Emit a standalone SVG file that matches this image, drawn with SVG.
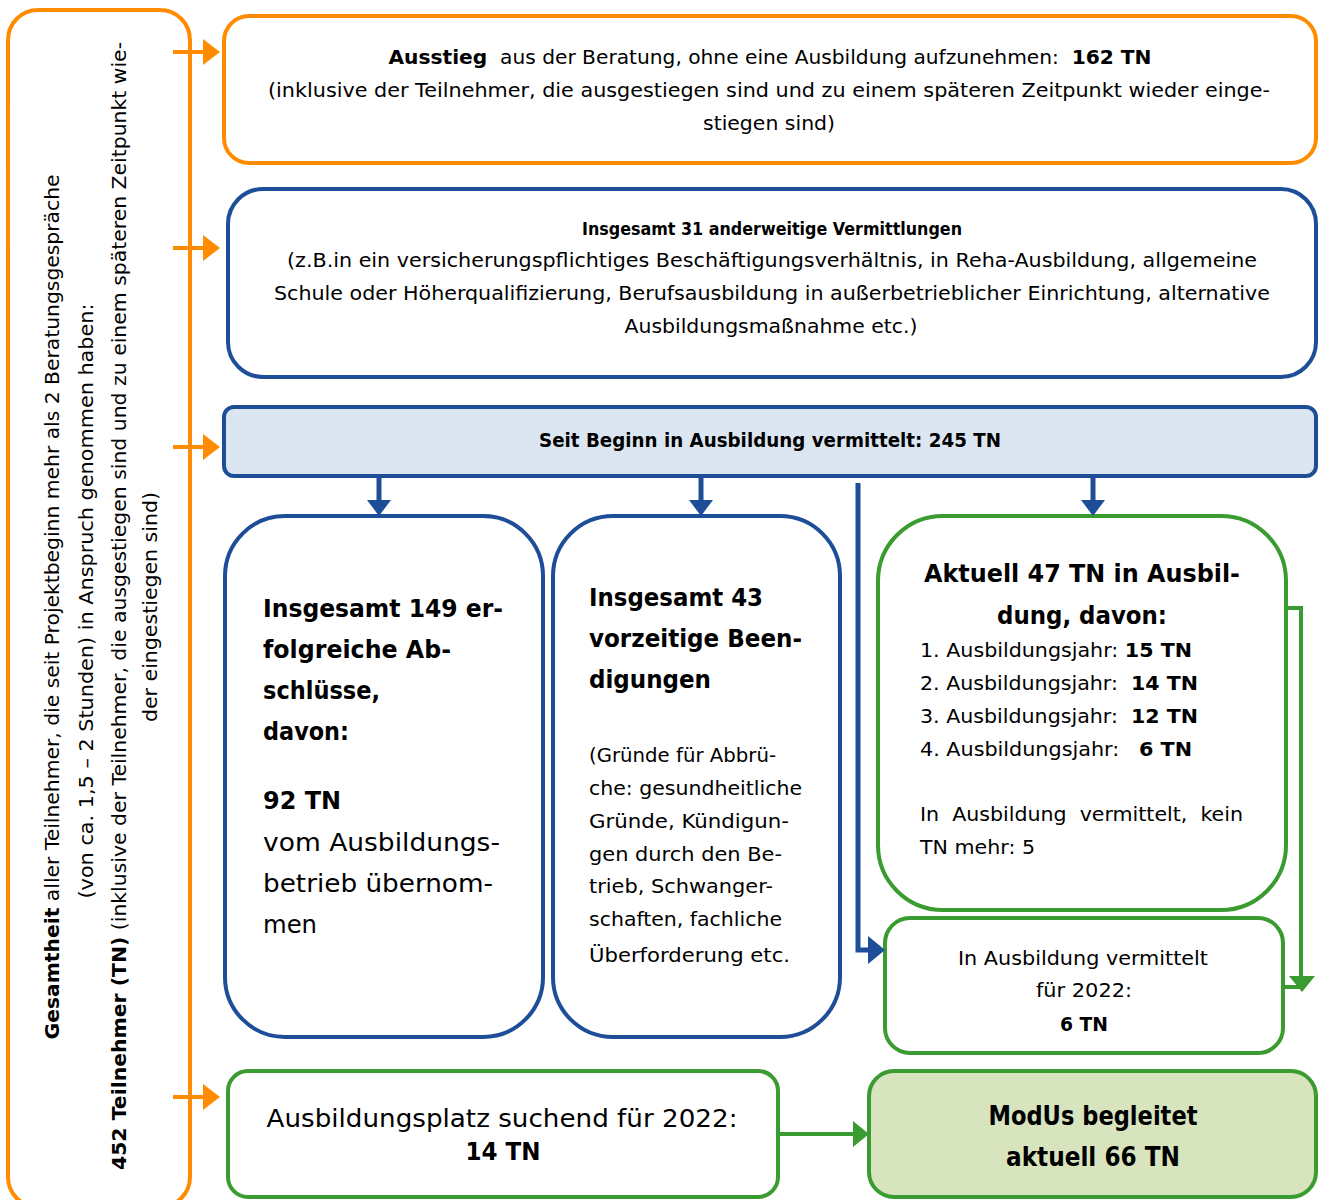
<svg xmlns="http://www.w3.org/2000/svg" width="1323" height="1200" viewBox="0 0 1323 1200">
<style>
text{font-family:"DejaVu Sans","Liberation Sans",sans-serif;fill:#000}
.b{font-weight:bold}
.or{fill:#fff;stroke:#FF8C00;stroke-width:4}
.bl{fill:#fff;stroke:#1F4E99;stroke-width:4}
.gr{fill:#fff;stroke:#3A9B30;stroke-width:4}
.ca{fill:none;stroke:#FF8C00;stroke-width:4}
.cb{fill:none;stroke:#1F4E99;stroke-width:5}
.cg{fill:none;stroke:#3A9B30;stroke-width:4}
.ho{fill:#FF8C00}.hb{fill:#1F4E99}.hg{fill:#3A9B30}
</style>
<rect width="1323" height="1200" fill="#fff"/>
<g id="gesamtheit">
<rect class="or" x="8" y="10" width="182" height="1197" rx="30"/>
<text transform="translate(59,607) rotate(-90)" text-anchor="middle" font-size="20" textLength="865" lengthAdjust="spacingAndGlyphs"><tspan class="b">Gesamtheit</tspan> aller Teilnehmer, die seit Projektbeginn mehr als 2 Beratungsgespräche</text>
<text transform="translate(93,601) rotate(-90)" text-anchor="middle" font-size="20" textLength="595" lengthAdjust="spacingAndGlyphs">(von ca. 1,5 – 2 Stunden) in Anspruch genommen haben:</text>
<text transform="translate(126,606) rotate(-90)" text-anchor="middle" font-size="20" textLength="1128" lengthAdjust="spacingAndGlyphs"><tspan class="b">452 Teilnehmer (TN)</tspan> (inklusive der Teilnehmer, die ausgestiegen sind und zu einem späteren Zeitpunkt wie-</text>
<text transform="translate(157,607) rotate(-90)" text-anchor="middle" font-size="20" textLength="230" lengthAdjust="spacingAndGlyphs">der eingestiegen sind)</text>
</g>
<g id="ausstieg">
<rect class="or" x="224" y="16" width="1092" height="147" rx="25"/>
<text x="770" y="64" text-anchor="middle" font-size="20" textLength="763" lengthAdjust="spacingAndGlyphs" xml:space="preserve"><tspan class="b">Ausstieg</tspan>  aus der Beratung, ohne eine Ausbildung aufzunehmen:  <tspan class="b">162 TN</tspan></text>
<text x="769" y="97" text-anchor="middle" font-size="20" textLength="1002" lengthAdjust="spacingAndGlyphs">(inklusive der Teilnehmer, die ausgestiegen sind und zu einem späteren Zeitpunkt wieder einge-</text>
<text x="769" y="130" text-anchor="middle" font-size="20" textLength="132" lengthAdjust="spacingAndGlyphs">stiegen sind)</text>
</g>
<g id="anderweitig">
<rect class="bl" x="228" y="189" width="1088" height="188" rx="35"/>
<text x="772" y="235" text-anchor="middle" font-size="17" class="b" textLength="380" lengthAdjust="spacingAndGlyphs">Insgesamt 31 anderweitige Vermittlungen</text>
<text x="772" y="267" text-anchor="middle" font-size="19" textLength="970" lengthAdjust="spacingAndGlyphs">(z.B.in ein versicherungspflichtiges Beschäftigungsverhältnis, in Reha-Ausbildung, allgemeine</text>
<text x="772" y="300" text-anchor="middle" font-size="19" textLength="996" lengthAdjust="spacingAndGlyphs">Schule oder Höherqualifizierung, Berufsausbildung in außerbetrieblicher Einrichtung, alternative</text>
<text x="771" y="333" text-anchor="middle" font-size="19" textLength="293" lengthAdjust="spacingAndGlyphs">Ausbildungsmaßnahme etc.)</text>
</g>
<g id="seit-beginn">
<rect x="224" y="407" width="1092" height="69" rx="10" fill="#DCE6F2" stroke="#1F4E99" stroke-width="4"/>
<text x="770" y="447" text-anchor="middle" font-size="19" class="b" textLength="462" lengthAdjust="spacingAndGlyphs">Seit Beginn in Ausbildung vermittelt: 245 TN</text>
</g>
<g id="abschluesse">
<rect class="bl" x="225" y="516" width="318" height="521" rx="60"/>
<text x="263" y="617" font-size="25" class="b" textLength="240" lengthAdjust="spacingAndGlyphs">Insgesamt 149 er-</text>
<text x="263" y="658" font-size="25" class="b" textLength="188" lengthAdjust="spacingAndGlyphs">folgreiche Ab-</text>
<text x="263" y="699" font-size="25" class="b" textLength="117" lengthAdjust="spacingAndGlyphs">schlüsse,</text>
<text x="263" y="740" font-size="25" class="b" textLength="86" lengthAdjust="spacingAndGlyphs">davon:</text>
<text x="263" y="809" font-size="25" class="b" textLength="78" lengthAdjust="spacingAndGlyphs">92 TN</text>
<text x="263" y="851" font-size="25" textLength="237" lengthAdjust="spacingAndGlyphs">vom Ausbildungs-</text>
<text x="263" y="892" font-size="25" textLength="230" lengthAdjust="spacingAndGlyphs">betrieb übernom-</text>
<text x="263" y="933" font-size="25" textLength="54" lengthAdjust="spacingAndGlyphs">men</text>
</g>
<g id="beendigungen">
<rect class="bl" x="553" y="516" width="287" height="521" rx="60"/>
<text x="589" y="606" font-size="25" class="b" textLength="174" lengthAdjust="spacingAndGlyphs">Insgesamt 43</text>
<text x="589" y="647" font-size="25" class="b" textLength="213" lengthAdjust="spacingAndGlyphs">vorzeitige Been-</text>
<text x="589" y="688" font-size="25" class="b" textLength="122" lengthAdjust="spacingAndGlyphs">digungen</text>
<text x="589" y="762" font-size="20" textLength="187" lengthAdjust="spacingAndGlyphs">(Gründe für Abbrü-</text>
<text x="589" y="795" font-size="20" textLength="213" lengthAdjust="spacingAndGlyphs">che: gesundheitliche</text>
<text x="589" y="828" font-size="20" textLength="200" lengthAdjust="spacingAndGlyphs">Gründe, Kündigun-</text>
<text x="589" y="861" font-size="20" textLength="193" lengthAdjust="spacingAndGlyphs">gen durch den Be-</text>
<text x="589" y="893" font-size="20" textLength="184" lengthAdjust="spacingAndGlyphs">trieb, Schwanger-</text>
<text x="589" y="926" font-size="20" textLength="193" lengthAdjust="spacingAndGlyphs">schaften, fachliche</text>
<text x="589" y="962" font-size="20" textLength="201" lengthAdjust="spacingAndGlyphs">Überforderung etc.</text>
</g>
<g id="aktuell">
<rect class="gr" x="878" y="516" width="408" height="394" rx="65"/>
<text x="1082" y="582" text-anchor="middle" font-size="24" class="b" textLength="316" lengthAdjust="spacingAndGlyphs">Aktuell 47 TN in Ausbil-</text>
<text x="1082" y="624" text-anchor="middle" font-size="24" class="b" textLength="170" lengthAdjust="spacingAndGlyphs">dung, davon:</text>
<text x="920" y="657" font-size="20" textLength="272" lengthAdjust="spacingAndGlyphs" xml:space="preserve">1. Ausbildungsjahr: <tspan class="b">15 TN</tspan></text>
<text x="920" y="690" font-size="20" textLength="278" lengthAdjust="spacingAndGlyphs" xml:space="preserve">2. Ausbildungsjahr:  <tspan class="b">14 TN</tspan></text>
<text x="920" y="723" font-size="20" textLength="278" lengthAdjust="spacingAndGlyphs" xml:space="preserve">3. Ausbildungsjahr:  <tspan class="b">12 TN</tspan></text>
<text x="920" y="756" font-size="20" textLength="272" lengthAdjust="spacingAndGlyphs" xml:space="preserve">4. Ausbildungsjahr:   <tspan class="b">6 TN</tspan></text>
<text x="920" y="821" font-size="20" textLength="323" lengthAdjust="spacingAndGlyphs" xml:space="preserve">In  Ausbildung  vermittelt,  kein</text>
<text x="920" y="854" font-size="20" textLength="115" lengthAdjust="spacingAndGlyphs">TN mehr: 5</text>
</g>
<g id="vermittelt-2022">
<rect class="gr" x="885" y="918" width="398" height="135" rx="25"/>
<text x="1083" y="965" text-anchor="middle" font-size="19" textLength="250" lengthAdjust="spacingAndGlyphs">In Ausbildung vermittelt</text>
<text x="1084" y="997" text-anchor="middle" font-size="19" textLength="96" lengthAdjust="spacingAndGlyphs">für 2022:</text>
<text x="1084" y="1031" text-anchor="middle" font-size="19" class="b" textLength="48" lengthAdjust="spacingAndGlyphs">6 TN</text>
</g>
<g id="suchend">
<rect class="gr" x="228" y="1071" width="550" height="126" rx="20"/>
<text x="502" y="1127" text-anchor="middle" font-size="24" textLength="471" lengthAdjust="spacingAndGlyphs">Ausbildungsplatz suchend für 2022:</text>
<text x="503" y="1160" text-anchor="middle" font-size="24" class="b" textLength="75" lengthAdjust="spacingAndGlyphs">14 TN</text>
</g>
<g id="modus">
<rect x="869" y="1071" width="447" height="126" rx="25" fill="#D7E4BD" stroke="#3A9B30" stroke-width="4"/>
<text x="1093" y="1125" text-anchor="middle" font-size="26" class="b" textLength="209" lengthAdjust="spacingAndGlyphs">ModUs begleitet</text>
<text x="1093" y="1166" text-anchor="middle" font-size="26" class="b" textLength="174" lengthAdjust="spacingAndGlyphs">aktuell 66 TN</text>
</g>
<g id="connectors">
<path class="ca" d="M173,52H205M173,248H205M173,447H205M173,1097H205"/>
<polygon class="ho" points="203,39 203,65 220,52"/>
<polygon class="ho" points="203,235 203,261 220,248"/>
<polygon class="ho" points="203,434 203,460 220,447"/>
<polygon class="ho" points="203,1084 203,1110 220,1097"/>
<path class="cb" d="M379,477V502M701,477V502M1093,477V502"/>
<polygon class="hb" points="367,500 391,500 379,516"/>
<polygon class="hb" points="689,500 713,500 701,516"/>
<polygon class="hb" points="1081,500 1105,500 1093,516"/>
<path class="cb" d="M858,483V950H870"/>
<polygon class="hb" points="868,936 868,964 885,950"/>
<path class="cg" d="M1286,608H1301V980M1283,987H1301"/>
<polygon class="hg" points="1289,976 1315,976 1302,992"/>
<path class="cg" d="M778,1134H855"/>
<polygon class="hg" points="853,1121 853,1147 869,1134"/>
</g>
</svg>
